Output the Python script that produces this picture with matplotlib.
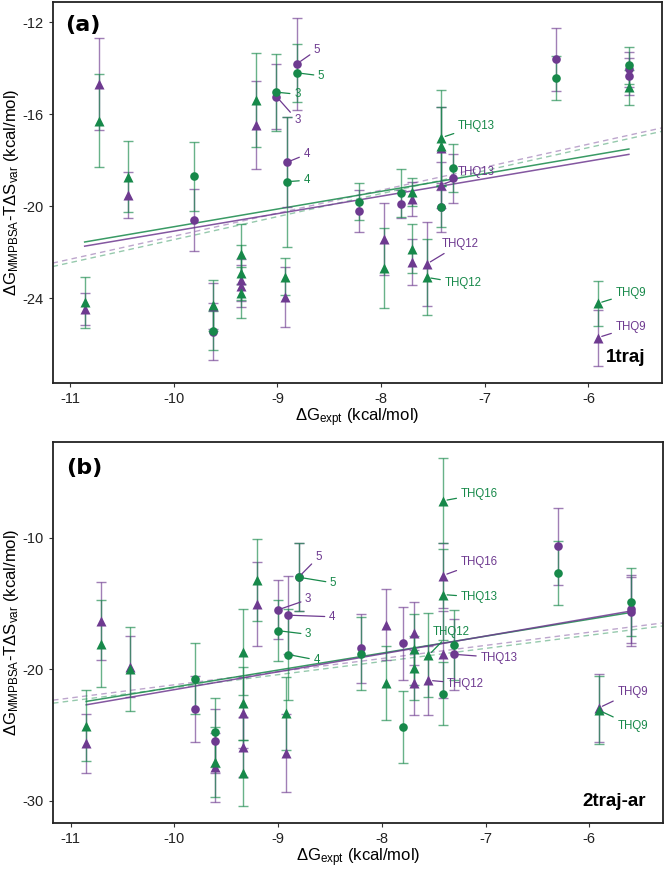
import matplotlib
matplotlib.use("Agg")
import matplotlib.pyplot as plt
import numpy as np

plt.rcParams['font.family'] = ['Liberation Sans', 'DejaVu Sans']
plt.rcParams['mathtext.fontset'] = 'custom'
plt.rcParams['mathtext.rm'] = 'Liberation Sans'
plt.rcParams['mathtext.it'] = 'Liberation Sans:italic'

GREEN = '#17894a'
PURPLE = '#6e3a90'

# ---------------- Panel (a): 1traj ----------------
a_gc_x = [-9.81, -9.62, -9.01, -8.81, -8.91, -8.21, -7.81, -7.42, -7.31, -6.31, -5.61]
a_gc_y = [-18.70, -25.40, -15.04, -14.20, -18.93, -19.80, -19.41, -20.02, -18.35, -14.41, -13.87]
a_gc_e = [1.50, 0.85, 1.67, 1.27, 2.83, 0.80, 1.05, 0.90, 1.05, 0.96, 0.80]

a_pc_x = [-9.81, -9.62, -9.01, -8.81, -8.91, -8.21, -7.81, -7.42, -7.31, -6.31, -5.61, -5.61]
a_pc_y = [-20.60, -25.45, -15.23, -13.80, -18.09, -20.20, -19.91, -20.05, -18.78, -13.61, -14.05, -14.35]
a_pc_e = [1.36, 1.25, 1.40, 2.00, 1.95, 0.90, 0.60, 1.05, 1.06, 1.38, 0.75, 0.80]

a_gt_x = [-10.72, -10.44, -10.86, -9.62, -9.35, -9.35, -9.35, -9.21, -8.93, -7.97, -7.70, -7.70, -7.56, -7.42, -7.42, -5.61, -5.91]
a_gt_y = [-16.28, -18.71, -24.17, -24.30, -22.09, -22.89, -23.76, -15.38, -23.06, -22.67, -19.39, -21.84, -23.09, -17.02, -17.37, -14.83, -24.22]
a_gt_e = [2.02, 1.56, 1.10, 1.10, 1.30, 1.20, 1.10, 2.06, 0.80, 1.73, 0.60, 1.05, 1.65, 2.08, 1.70, 0.75, 0.97]

a_pt_x = [-10.72, -10.44, -10.86, -9.62, -9.35, -9.35, -9.21, -8.93, -7.97, -7.70, -7.70, -7.56, -7.42, -7.42, -5.91]
a_pt_y = [-14.70, -19.50, -24.48, -24.35, -23.20, -23.47, -16.48, -23.93, -21.43, -19.68, -22.43, -22.51, -17.48, -19.07, -25.71]
a_pt_e = [2.00, 1.00, 0.70, 1.00, 0.90, 0.90, 1.91, 1.30, 1.56, 0.75, 1.00, 1.84, 1.80, 1.00, 1.22]

# fit lines: (slope, intercept), x-range for solid fits
a_fit_green = (0.77, -13.19)
a_fit_purple = (0.76, -13.48)
a_fit_xrange = (-10.86, -5.61)
a_offset_green = -11.45   # dashed y = x + offset
a_offset_purple = -11.30

# labels: text, point x, point y, text x, text y, colour
a_labels = [
    ('3', -9.01, -15.04, -8.84, -15.13, 'g'),
    ('3', -9.01, -15.23, -8.84, -16.25, 'p'),
    ('5', -8.81, -13.80, -8.65, -13.20, 'p'),
    ('5', -8.81, -14.20, -8.61, -14.33, 'g'),
    ('4', -8.91, -18.09, -8.75, -17.74, 'p'),
    ('4', -8.91, -18.93, -8.75, -18.87, 'g'),
    ('THQ13', -7.42, -17.02, -7.26, -16.51, 'g'),
    ('THQ13', -7.42, -19.07, -7.26, -18.50, 'p'),
    ('THQ12', -7.56, -22.51, -7.42, -21.64, 'p'),
    ('THQ12', -7.56, -23.09, -7.39, -23.35, 'g'),
    ('THQ9', -5.91, -24.22, -5.74, -23.78, 'g'),
    ('THQ9', -5.91, -25.71, -5.74, -25.26, 'p'),
]

# ---------------- Panel (b): 2traj-ar ----------------
b_gc_x = [-9.80, -9.61, -9.00, -8.80, -8.90, -8.20, -7.80, -7.41, -7.30, -6.30, -5.60]
b_gc_y = [-20.71, -24.81, -17.06, -12.99, -18.88, -18.81, -24.38, -21.85, -18.18, -12.69, -14.89]
b_gc_e = [2.73, 2.66, 2.32, 2.60, 3.45, 2.80, 2.72, 2.40, 2.66, 2.45, 2.60]

b_pc_x = [-9.80, -9.61, -9.00, -8.80, -8.90, -8.20, -7.80, -7.30, -6.30, -5.60, -5.60]
b_pc_y = [-23.01, -25.44, -15.47, -12.95, -15.88, -18.41, -18.03, -18.86, -10.64, -15.40, -15.60]
b_pc_e = [2.53, 2.45, 2.25, 2.60, 2.96, 2.65, 2.76, 2.70, 2.95, 2.60, 2.65]

b_gt_x = [-10.71, -10.43, -10.85, -9.61, -9.34, -9.34, -9.34, -9.20, -8.92, -7.96, -7.69, -7.69, -7.55, -7.41, -7.41, -5.91]
b_gt_y = [-18.05, -20.00, -24.30, -27.08, -18.69, -22.60, -27.90, -13.17, -23.34, -21.01, -18.48, -19.90, -18.94, -7.17, -14.31, -23.11]
b_gt_e = [3.30, 3.20, 2.70, 2.66, 3.30, 2.80, 2.50, 3.12, 2.77, 2.82, 2.70, 2.45, 3.19, 3.25, 3.45, 2.60]

b_pt_x = [-10.71, -10.43, -10.85, -9.61, -9.34, -9.34, -9.20, -8.92, -7.96, -7.69, -7.69, -7.55, -7.41, -7.41, -5.91]
b_pt_y = [-16.33, -19.80, -25.62, -27.46, -23.30, -25.90, -15.01, -26.37, -16.60, -17.27, -21.01, -20.84, -12.86, -18.86, -22.95]
b_pt_e = [3.00, 2.30, 2.25, 2.62, 2.70, 2.30, 3.20, 3.00, 2.70, 2.40, 2.50, 2.65, 2.50, 3.30, 2.60]

b_fit_green = (1.29, -8.45)
b_fit_purple = (1.36, -7.95)
b_fit_xrange = (-10.85, -5.60)
b_offset_green = -11.41
b_offset_purple = -11.18

b_labels = [
    ('THQ16', -7.41, -7.17, -7.24, -6.66, 'g'),
    ('THQ16', -7.41, -12.86, -7.24, -11.85, 'p'),
    ('THQ13', -7.41, -14.31, -7.24, -14.51, 'g'),
    ('THQ12', -7.55, -18.94, -7.51, -17.17, 'g'),
    ('THQ13', -7.30, -18.86, -7.05, -19.11, 'p'),
    ('THQ12', -7.55, -20.84, -7.37, -21.09, 'p'),
    ('THQ9', -5.91, -22.95, -5.73, -21.72, 'p'),
    ('THQ9', -5.91, -23.11, -5.73, -24.31, 'g'),
    ('5', -8.80, -12.97, -8.64, -11.44, 'p'),
    ('5', -8.80, -12.99, -8.50, -13.42, 'g'),
    ('3', -9.00, -15.47, -8.74, -14.68, 'p'),
    ('3', -9.00, -17.06, -8.74, -17.34, 'g'),
    ('4', -8.90, -15.88, -8.51, -16.00, 'p'),
    ('4', -8.90, -18.88, -8.66, -19.29, 'g'),
]

x_ticks = [-11, -10, -9, -8, -7, -6]
a_y_ticks = [-24, -20, -16, -12]
b_y_ticks = [-30, -20, -10]
xlim = (-11.17, -5.29)
a_ylim = (-27.68, -11.12)
b_ylim = (-31.7, -2.67)

fig = plt.figure(figsize=(6.64, 8.69), dpi=100)
ax_a = fig.add_axes([0.0791, 0.5593, 0.918, 0.4384])
ax_b = fig.add_axes([0.0798, 0.0530, 0.9185, 0.4387])

ylabel = 'ΔG$_{\\mathrm{MMPBSA}}$-TΔS$_{\\mathrm{var}}$ (kcal/mol)'
xlabel = 'ΔG$_{\\mathrm{expt}}$ (kcal/mol)'


def draw_panel(ax, series, fits, fit_xrange, offsets, labels, yticks, ylim, tag, name, tag_y, name_y):
    # dashed y = x + offset lines spanning full width
    xx = np.array(xlim)
    for off, col in zip(offsets, [PURPLE, GREEN]):
        ax.plot(xx, xx + off, ls=(0, (4, 3)), color=col, alpha=0.45, lw=1.0, zorder=1)
    # solid fits
    fx = np.array(fit_xrange)
    for (m, c), col in zip(fits, [GREEN, PURPLE]):
        ax.plot(fx, m * fx + c, color=col, lw=1.1, alpha=0.85, zorder=1.5)
    # error bars & points: purple first, green on top
    for x, y, e, col, mk in series:
        ax.errorbar(x, y, yerr=e, fmt='none', ecolor=col, elinewidth=1.0,
                    capsize=3.8, capthick=1.0, alpha=0.65, zorder=2)
    for x, y, e, col, mk in series:
        ax.plot(x, y, ls='none', marker=mk, color=col, ms=6.8 if mk == '^' else 6.2,
                mec='none', zorder=3)
    for txt, px, py, tx, ty, c in labels:
        col = GREEN if c == 'g' else PURPLE
        ax.annotate(txt, xy=(px, py), xytext=(tx, ty), color=col, fontsize=8.3,
                    ha='left', va='center', zorder=4,
                    arrowprops=dict(arrowstyle='-', color=col, lw=0.9,
                                    shrinkA=1, shrinkB=3))
    ax.set_xlim(*xlim)
    ax.set_ylim(*ylim)
    ax.set_xticks(x_ticks)
    ax.set_xticklabels([str(t) for t in x_ticks])
    ax.set_yticks(yticks)
    ax.set_yticklabels([str(t) for t in yticks])
    ax.tick_params(labelsize=10.5, length=3, width=0.8, colors='#333333', labelcolor='#222222')
    for s in ax.spines.values():
        s.set_linewidth(1.3)
        s.set_color('#222222')
    ax.set_xlabel(xlabel, fontsize=12, labelpad=0)
    ax.set_ylabel(ylabel, fontsize=12, labelpad=1)
    ax.text(0.021, tag_y, tag, transform=ax.transAxes, fontsize=16, fontweight='bold',
            family='DejaVu Sans', ha='left', va='center')
    ax.text(0.972, name_y, name, transform=ax.transAxes, fontsize=13.5, fontweight='bold',
            ha='right', va='center')


series_a = [
    (a_pc_x, a_pc_y, a_pc_e, PURPLE, 'o'),
    (a_pt_x, a_pt_y, a_pt_e, PURPLE, '^'),
    (a_gc_x, a_gc_y, a_gc_e, GREEN, 'o'),
    (a_gt_x, a_gt_y, a_gt_e, GREEN, '^'),
]
series_b = [
    (b_pc_x, b_pc_y, b_pc_e, PURPLE, 'o'),
    (b_pt_x, b_pt_y, b_pt_e, PURPLE, '^'),
    (b_gc_x, b_gc_y, b_gc_e, GREEN, 'o'),
    (b_gt_x, b_gt_y, b_gt_e, GREEN, '^'),
]

draw_panel(ax_a, series_a, [a_fit_green, a_fit_purple], a_fit_xrange,
           [a_offset_purple, a_offset_green], a_labels, a_y_ticks, a_ylim,
           '(a)', '1traj', 0.94, 0.067)
draw_panel(ax_b, series_b, [b_fit_green, b_fit_purple], b_fit_xrange,
           [b_offset_purple, b_offset_green], b_labels, b_y_ticks, b_ylim,
           '(b)', '2traj-ar', 0.931, 0.056)

fig.savefig('out.png', dpi=100)
